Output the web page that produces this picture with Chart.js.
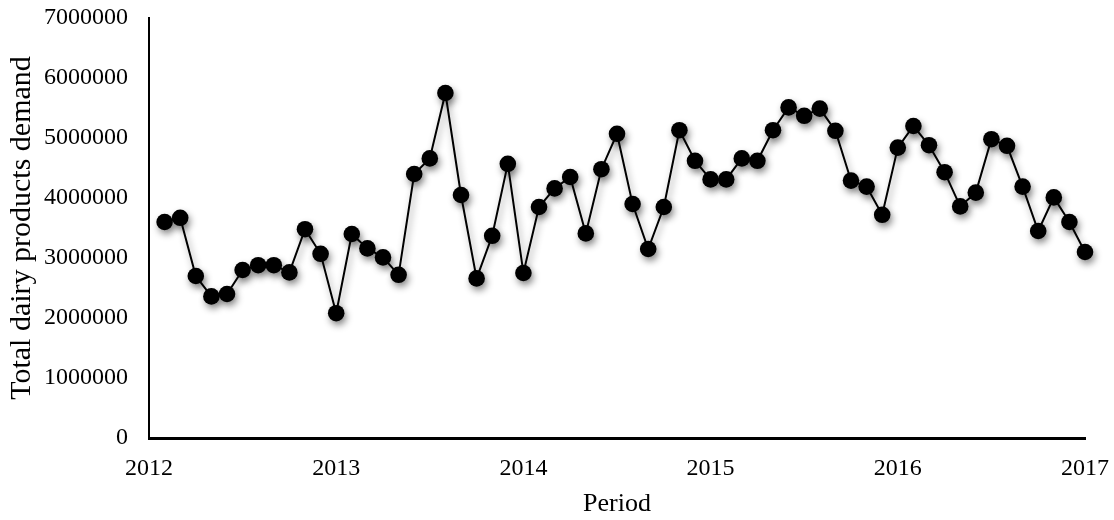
<!DOCTYPE html>
<html>
<head>
<meta charset="utf-8">
<script src="https://cdn.jsdelivr.net/npm/chart.js@4/dist/chart.umd.min.js"></script>
<style>
  html, body { margin: 0; padding: 0; background: #fff; }
  #wrap { width: 1114px; height: 520px; }
</style>
</head>
<body>
<div id="wrap"><canvas id="myChart" width="1114" height="520"></canvas></div>
<script>
// monthly demand, Feb 2012 .. Jan 2017
const startYear = 2012;
const yearTicks = [2012, 2013, 2014, 2015, 2016, 2017];
const demand = [
  3600000, 3670000, 2700000, 2360000, 2400000, 2800000, 2880000, 2880000, 2760000, 3480000, 3070000, 2080000,
  3400000, 3160000, 3010000, 2720000, 4400000, 4660000, 5750000, 4050000, 2660000, 3370000, 4570000, 2750000,
  3850000, 4160000, 4350000, 3410000, 4480000, 5070000, 3900000, 3150000, 3850000, 5130000, 4620000, 4310000,
  4310000, 4660000, 4620000, 5130000, 5510000, 5370000, 5490000, 5120000, 4290000, 4190000, 3720000, 4840000,
  5200000, 4880000, 4430000, 3860000, 4090000, 4980000, 4870000, 4190000, 3450000, 4010000, 3600000, 3100000
];
const yMax = 7000000;
const yStep = 1000000;

const FONT = "'Liberation Serif', 'Times New Roman', serif";

const points = demand.map((v, i) => ({ x: startYear + (i + 1) / 12, y: v }));

const shadowPlugin = {
  id: 'shadow',
  beforeDatasetsDraw(chart) {
    const c = chart.ctx;
    c.save();
    c.shadowColor = 'rgba(0,0,0,0.45)';
    c.shadowBlur = 7;
    c.shadowOffsetX = 2;
    c.shadowOffsetY = 4;
  },
  afterDatasetsDraw(chart) {
    chart.ctx.restore();
  }
};

const ctx = document.getElementById('myChart');
const myChart = new Chart(ctx, {
  type: 'line',
  data: {
    datasets: [{
      label: 'Total dairy products demand',
      data: points,
      borderColor: '#000',
      borderWidth: 2,
      backgroundColor: '#000',
      pointBackgroundColor: '#000',
      pointBorderColor: '#000',
      pointRadius: 8.3,
      pointBorderWidth: 0,
      tension: 0,
      clip: false
    }]
  },
  options: {
    responsive: false,
    animation: false,
    layout: { padding: { top: 18, right: 29, left: 0, bottom: 0 } },
    plugins: {
      legend: { display: false },
      tooltip: { enabled: false }
    },
    scales: {
      x: {
        type: 'linear',
        min: yearTicks[0],
        max: yearTicks[yearTicks.length - 1],
        afterBuildTicks: (scale) => { scale.ticks = yearTicks.map(v => ({ value: v })); },
        afterFit: (scale) => {
          scale.height = 82;
          scale.paddingLeft = 0;
          scale.paddingRight = 0;
        },
        grid: { display: false, drawTicks: false },
        border: { display: true, color: '#000', width: 3 },
        ticks: {
          color: '#000',
          font: { family: FONT, size: 24 },
          padding: 16,
          maxRotation: 0,
          callback: (v) => String(v)
        },
        title: {
          display: true,
          text: 'Period',
          color: '#000',
          font: { family: FONT, size: 26 },
          padding: { top: 0, bottom: 0 }
        }
      },
      y: {
        min: 0,
        max: yMax,
        afterFit: (scale) => {
          scale.width = 149;
          scale.paddingTop = 0;
          scale.paddingBottom = 0;
        },
        grid: { display: false, drawTicks: false },
        border: { display: true, color: '#000', width: 2 },
        ticks: {
          stepSize: yStep,
          color: '#000',
          font: { family: FONT, size: 24 },
          padding: 21,
          callback: (v) => String(v)
        },
        title: {
          display: true,
          text: 'Total dairy products demand',
          color: '#000',
          font: { family: FONT, size: 30 },
          padding: { top: 4, bottom: 0 }
        }
      }
    }
  },
  plugins: [shadowPlugin]
});
</script>
</body>
</html>
